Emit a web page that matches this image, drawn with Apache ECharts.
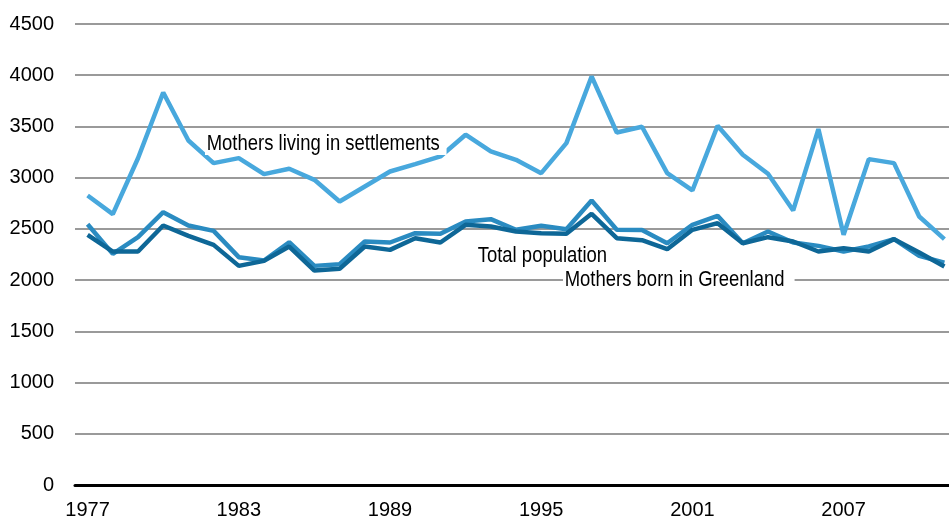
<!DOCTYPE html>
<html>
<head>
<meta charset="utf-8">
<script src="https://cdn.jsdelivr.net/npm/echarts@6/dist/echarts.min.js"></script>
<style>
html,body{margin:0;padding:0;background:#fff;}
#c{width:949px;height:517px;}
</style>
</head>
<body>
<div id="c"></div>
<script>
var years = [];
for (var y = 1977; y <= 2011; y++) years.push(String(y));

var settlements = [2826, 2644, 3190, 3832, 3363, 3142, 3191, 3035, 3087, 2979, 2767,
  2914, 3060, 3132, 3207, 3419, 3256, 3174, 3044, 3337, 3988, 3441, 3497,
  3044, 2875, 3507, 3223, 3038, 2680, 3474, 2442, 3181, 3142, 2621, 2400];
var totalPop = [2546, 2256, 2419, 2663, 2533, 2481, 2224, 2191, 2370, 2139, 2155,
  2377, 2367, 2458, 2452, 2572, 2595, 2491, 2530, 2497, 2777, 2491, 2488,
  2360, 2540, 2627, 2360, 2474, 2367, 2334, 2279, 2328, 2400, 2237, 2171];
var bornGreenland = [2442, 2279, 2279, 2533, 2432, 2344, 2139, 2188, 2328, 2093, 2110,
  2328, 2295, 2409, 2367, 2540, 2523, 2474, 2458, 2452, 2647, 2409, 2390,
  2302, 2491, 2556, 2360, 2419, 2377, 2279, 2312, 2279, 2400, 2269, 2132];

var FONT = '"Liberation Sans", Arial, sans-serif';

function label(text, x, y, pad) {
  return {type: 'text', x: x, y: y, scaleX: 0.84, z: 100,
    style: {text: text, x: 0, y: 0, verticalAlign: 'middle', align: 'left',
      font: '22px ' + FONT, fill: '#000', backgroundColor: '#fff', padding: pad}};
}

var chart = echarts.init(document.getElementById('c'), null, {renderer: 'canvas'});
chart.setOption({
  animation: false,
  backgroundColor: '#ffffff',
  grid: {left: 75, top: 24, width: 882, bottom: 32, containLabel: false, outerBoundsMode: 'none'},
  xAxis: {
    type: 'category',
    data: years,
    boundaryGap: true,
    axisLine: {show: true, lineStyle: {color: '#000000', width: 3}},
    axisTick: {show: false},
    axisLabel: {interval: 5, margin: 15, color: '#000', fontSize: 20, fontFamily: FONT},
    splitLine: {show: false},
    z: 10
  },
  yAxis: {
    type: 'value',
    min: 0, max: 4500, interval: 500,
    axisLine: {show: false},
    axisTick: {show: false},
    axisLabel: {margin: 21, color: '#000', fontSize: 20, fontFamily: FONT,
      formatter: function (v) { return String(v); }},
    splitLine: {show: true, lineStyle: {color: '#9a9a9a', width: 2}}
  },
  series: [
    {name: 'Total population', type: 'line', data: totalPop, symbol: 'none',
      lineStyle: {color: '#2a8bc1', width: 4.5}, z: 3},
    {name: 'Mothers born in Greenland', type: 'line', data: bornGreenland, symbol: 'none',
      lineStyle: {color: '#0e6797', width: 4.5}, z: 4},
    {name: 'Mothers living in settlements', type: 'line', data: settlements, symbol: 'none',
      lineStyle: {color: '#48a8dd', width: 4.5}, z: 5}
  ],
  graphic: [
    label('Mothers living in settlements', 205, 144, [0, 8, 0, 2]),
    label('Total population', 476, 256, [0, 3, 0, 2]),
    label('Mothers born in Greenland', 563, 280, [0, 12, 0, 2])
  ]
});
</script>
</body>
</html>
